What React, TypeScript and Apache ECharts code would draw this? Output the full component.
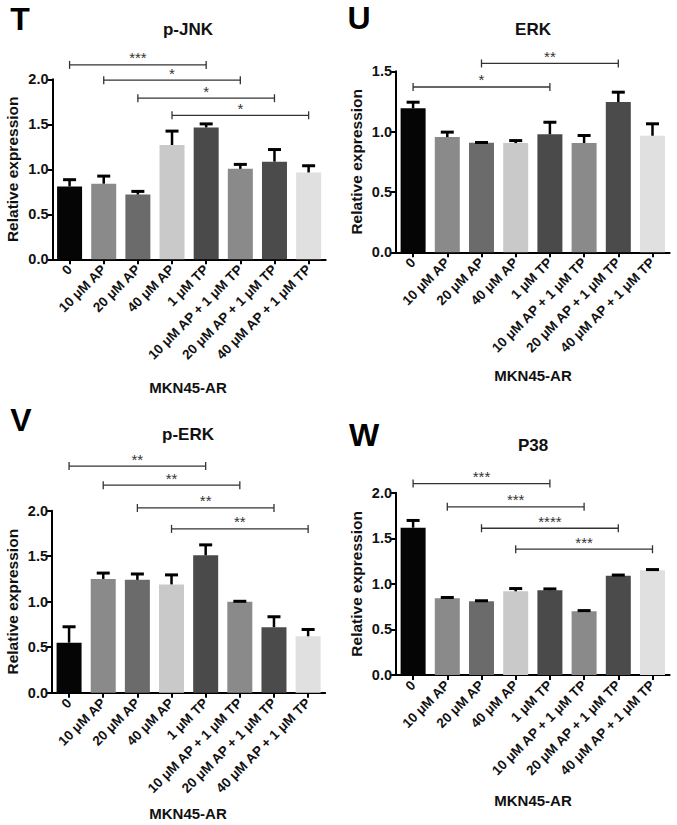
import React, { useEffect, useRef } from 'react';
import * as echarts from 'echarts';

// ---------- data ----------
const categories = [
  '0',
  '10 μM AP',
  '20 μM AP',
  '40 μM AP',
  '1 μM TP',
  '10 μM AP + 1 μM TP',
  '20 μM AP + 1 μM TP',
  '40 μM AP + 1 μM TP',
];
const barColors = ['#050505', '#8a8a8a', '#6b6b6b', '#c9c9c9', '#4a4a4a', '#8a8a8a', '#4b4b4b', '#e0e0e0'];

// T: p-JNK
const pJnkMean = [0.81, 0.84, 0.72, 1.27, 1.465, 1.005, 1.085, 0.965];
const pJnkSem = [0.08, 0.09, 0.04, 0.16, 0.045, 0.055, 0.14, 0.08];
const pJnkSig: [number, number, number, string][] = [
  [0, 4, 2.16, '***'],
  [1, 5, 1.99, '*'],
  [2, 6, 1.79, '*'],
  [3, 7, 1.6, '*'],
];
const pJnkTicks = [0, 2, 0.5];

// U: ERK
const erkMean = [1.193, 0.955, 0.908, 0.905, 0.978, 0.906, 1.245, 0.966];
const erkSem = [0.055, 0.045, 0.006, 0.025, 0.104, 0.066, 0.086, 0.103];
const erkSig: [number, number, number, string][] = [
  [0, 4, 1.37, '*'],
  [2, 6, 1.565, '**'],
];
const erkTicks = [0, 1.5, 0.5];

// V: p-ERK
const pErkMean = [0.55, 1.25, 1.24, 1.19, 1.51, 1.0, 0.72, 0.62];
const pErkSem = [0.18, 0.07, 0.07, 0.11, 0.12, 0.01, 0.12, 0.08];
const pErkSig: [number, number, number, string][] = [
  [0, 4, 2.49, '**'],
  [1, 5, 2.28, '**'],
  [2, 6, 2.03, '**'],
  [3, 7, 1.8, '**'],
];
const pErkTicks = [0, 2, 0.5];

// W: P38
const p38Mean = [1.616, 0.841, 0.809, 0.918, 0.93, 0.70, 1.09, 1.15];
const p38Sem = [0.085, 0.015, 0.011, 0.036, 0.02, 0.012, 0.012, 0.012];
const p38Sig: [number, number, number, string][] = [
  [0, 4, 2.1, '***'],
  [1, 5, 1.845, '***'],
  [2, 6, 1.61, '****'],
  [3, 7, 1.38, '***'],
];
const p38Ticks = [0, 2, 0.5];

const xTitle = 'MKN45-AR';
const yTitle = 'Relative expression';

// ---------- layout ----------
const FONT = '"Liberation Sans", Arial, Helvetica, sans-serif';

const panels = [
  { letter: 'T', title: 'p-JNK', mean: pJnkMean, sem: pJnkSem, sig: pJnkSig, ticks: pJnkTicks,
    grid: { left: 52.5, top: 79.3, width: 273.2, height: 180 },
    letterPos: [20, 19], titlePos: [188, 29], xNamePos: [188, 387] },
  { letter: 'U', title: 'ERK', mean: erkMean, sem: erkSem, sig: erkSig, ticks: erkTicks,
    grid: { left: 396, top: 71.3, width: 273.6, height: 181 },
    letterPos: [359, 18], titlePos: [533, 29], xNamePos: [533, 375] },
  { letter: 'V', title: 'p-ERK', mean: pErkMean, sem: pErkSem, sig: pErkSig, ticks: pErkTicks,
    grid: { left: 52, top: 510.7, width: 273.2, height: 182 },
    letterPos: [21, 420], titlePos: [188, 434], xNamePos: [188, 813] },
  { letter: 'W', title: 'P38', mean: p38Mean, sem: p38Sem, sig: p38Sig, ticks: p38Ticks,
    grid: { left: 396, top: 492.7, width: 273.6, height: 182.3 },
    letterPos: [364, 435], titlePos: [533, 445], xNamePos: [533, 800] },
];

function buildOption() {
  const grid: any[] = [];
  const xAxis: any[] = [];
  const yAxis: any[] = [];
  const series: any[] = [];
  const graphic: any[] = [];

  panels.forEach((p, i) => {
    grid.push({ ...p.grid, containLabel: false });
    xAxis.push({
      type: 'category',
      gridIndex: i,
      data: categories,
      boundaryGap: true,
      axisLine: { show: true, lineStyle: { color: '#000', width: 2 } },
      axisTick: { show: true, alignWithLabel: true, length: 5, lineStyle: { color: '#000', width: 2 } },
      axisLabel: {
        interval: 0,
        rotate: 45,
        margin: 8,
        fontSize: 13.5,
        fontWeight: 'bold',
        fontFamily: FONT,
        color: '#111',
      },
      splitLine: { show: false },
    });
    yAxis.push({
      type: 'value',
      gridIndex: i,
      min: p.ticks[0],
      max: p.ticks[1],
      interval: p.ticks[2],
      axisLine: { show: true, lineStyle: { color: '#000', width: 2 } },
      axisTick: { show: true, length: 5, lineStyle: { color: '#000', width: 2 } },
      axisLabel: {
        formatter: (v: number) => v.toFixed(1),
        fontSize: 14.5,
        fontWeight: 'bold',
        fontFamily: FONT,
        color: '#111',
        margin: 4,
      },
      splitLine: { show: false },
      name: yTitle,
      nameLocation: 'middle',
      nameGap: 32,
      nameTextStyle: { fontSize: 15.5, fontWeight: 'bold', fontFamily: FONT, color: '#111' },
    });

    series.push({
      type: 'bar',
      xAxisIndex: i,
      yAxisIndex: i,
      barWidth: 25,
      data: p.mean.map((v, k) => ({ value: v, itemStyle: { color: barColors[k] } })),
      z: 2,
    });

    const semArr = p.sem;
    series.push({
      type: 'custom',
      xAxisIndex: i,
      yAxisIndex: i,
      z: 3,
      clip: false,
      encode: { x: 0, y: 1 },
      data: p.mean.map((v, k) => [k, v, semArr[k]]),
      renderItem: (params: any, api: any) => {
        const x = api.value(0);
        const m = api.value(1);
        const e = api.value(2);
        const p0 = api.coord([x, m]);
        const p1 = api.coord([x, m + e]);
        return {
          type: 'group',
          children: [
            { type: 'line', shape: { x1: p0[0], y1: p0[1], x2: p1[0], y2: p1[1] + 1 },
              style: { stroke: '#000', lineWidth: 2.5 } },
            { type: 'line', shape: { x1: p1[0] - 6.5, y1: p1[1] + 0.5, x2: p1[0] + 6.5, y2: p1[1] + 0.5 },
              style: { stroke: '#000', lineWidth: 3 } },
          ],
        };
      },
    });

    const sigArr = p.sig;
    series.push({
      type: 'custom',
      xAxisIndex: i,
      yAxisIndex: i,
      z: 4,
      clip: false,
      encode: { x: 0, y: 1 },
      data: sigArr.map((s) => [s[0], s[2], s[1]]),
      renderItem: (params: any, api: any) => {
        const a = api.value(0);
        const y = api.value(1);
        const b = api.value(2);
        const label = sigArr[params.dataIndex][3];
        const pa = api.coord([a, y]);
        const pb = api.coord([b, y]);
        const col = '#333';
        return {
          type: 'group',
          children: [
            { type: 'line', shape: { x1: pa[0], y1: pa[1], x2: pb[0], y2: pb[1] },
              style: { stroke: col, lineWidth: 1.3 } },
            { type: 'line', shape: { x1: pa[0], y1: pa[1] - 4, x2: pa[0], y2: pa[1] + 4 },
              style: { stroke: col, lineWidth: 1.3 } },
            { type: 'line', shape: { x1: pb[0], y1: pb[1] - 4, x2: pb[0], y2: pb[1] + 4 },
              style: { stroke: col, lineWidth: 1.3 } },
            { type: 'text', x: (pa[0] + pb[0]) / 2, y: pa[1] - 7,
              style: { text: label, align: 'center', verticalAlign: 'middle',
                textAlign: 'center', textVerticalAlign: 'middle',
                fontSize: 15, fontFamily: FONT, fill: '#333' } },
          ],
        };
      },
    });

    graphic.push({
      type: 'text', x: p.letterPos[0], y: p.letterPos[1],
      style: { text: p.letter, fontSize: 32, fontWeight: 'bold', fontFamily: FONT, fill: '#000',
        textAlign: 'center', textVerticalAlign: 'middle' },
    });
    graphic.push({
      type: 'text', x: p.titlePos[0], y: p.titlePos[1],
      style: { text: p.title, fontSize: 17, fontWeight: 'bold', fontFamily: FONT, fill: '#111',
        textAlign: 'center', textVerticalAlign: 'middle' },
    });
    graphic.push({
      type: 'text', x: p.xNamePos[0], y: p.xNamePos[1],
      style: { text: xTitle, fontSize: 15, fontWeight: 'bold', fontFamily: FONT, fill: '#111',
        textAlign: 'center', textVerticalAlign: 'middle' },
    });
  });

  return {
    animation: false,
    backgroundColor: '#fff',
    grid,
    xAxis,
    yAxis,
    series,
    graphic,
  };
}

export default function App() {
  const ref = useRef<HTMLDivElement>(null);
  useEffect(() => {
    if (!ref.current) return;
    const chart = echarts.init(ref.current, undefined, { renderer: 'svg' });
    chart.setOption(buildOption() as any);
    return () => chart.dispose();
  }, []);
  return (
    <div
      ref={ref}
      style={{ position: 'absolute', left: 0, top: 0, width: 677, height: 825, background: '#fff' }}
    />
  );
}
